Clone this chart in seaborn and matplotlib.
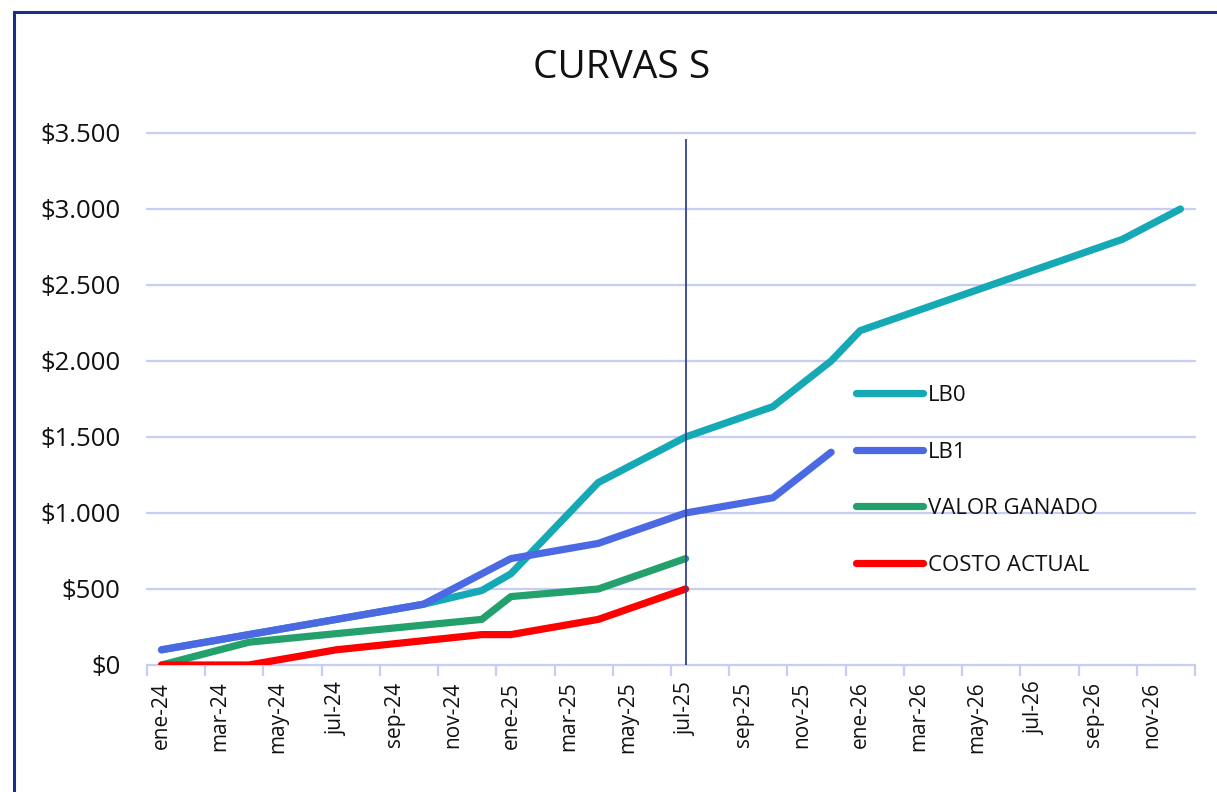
import matplotlib
matplotlib.use("Agg")
import matplotlib.pyplot as plt
from matplotlib.patches import Rectangle
from matplotlib.ticker import FuncFormatter, FixedLocator
import seaborn as sns
import pandas as pd

# ---- data ----
month_abbr = ["ene", "feb", "mar", "abr", "may", "jun", "jul", "ago", "sep", "oct", "nov", "dic"]
years = ["24", "25", "26"]
all_months = [f"{m}-{y}" for y in years for m in month_abbr]

series_names = ["LB0", "LB1", "VALOR GANADO", "COSTO ACTUAL"]

lb0_months = ["ene-24", "oct-24", "dic-24", "ene-25", "abr-25", "jul-25", "oct-25", "dic-25", "ene-26", "oct-26", "dic-26"]
lb0_values = [100, 400, 490, 600, 1200, 1500, 1700, 2000, 2200, 2800, 3000]

lb1_months = ["ene-24", "oct-24", "ene-25", "abr-25", "jul-25", "oct-25", "dic-25"]
lb1_values = [100, 400, 700, 800, 1000, 1100, 1400]

vg_months = ["ene-24", "abr-24", "dic-24", "ene-25", "abr-25", "jul-25"]
vg_values = [0, 150, 300, 450, 500, 700]

ca_months = ["ene-24", "abr-24", "jul-24", "dic-24", "ene-25", "abr-25", "jul-25"]
ca_values = [0, 0, 100, 200, 200, 300, 500]

cutoff_month = "jul-25"
cutoff_range = [0, 3460]

y_ticks = [0, 500, 1000, 1500, 2000, 2500, 3000, 3500]

colors = ["#15A9B6", "#4B69E2", "#23A06C", "#FF0000"]

# ---- frame ----
rows = []
for name, ms, vs in zip(series_names,
                        [lb0_months, lb1_months, vg_months, ca_months],
                        [lb0_values, lb1_values, vg_values, ca_values]):
    for m, v in zip(ms, vs):
        rows.append({"serie": name, "mes": all_months.index(m), "valor": v})
df = pd.DataFrame(rows)

sns.set_theme(style="white")
plt.rcParams["font.family"] = ["Open Sans", "DejaVu Sans"]

fig = plt.figure(figsize=(12.17, 7.92), dpi=100)
ax = fig.add_axes([147 / 1217, 1 - 665 / 792, (1195 - 147) / 1217, (665 - 133) / 792])

grid_c = "#C8CDF4"
for v in y_ticks[1:]:
    ax.axhline(v, color=grid_c, lw=1.6, zorder=0, clip_on=False)

lw = 5.2
sns.lineplot(data=df, x="mes", y="valor", hue="serie", hue_order=series_names,
             palette=colors, linewidth=lw, sort=False, ax=ax, zorder=3,
             solid_capstyle="round", estimator=None)

cx = all_months.index(cutoff_month)
ax.vlines(cx, cutoff_range[0], cutoff_range[1], color="#34418F", lw=1.3, zorder=4)

ax.set_xlim(-0.5, len(all_months) - 0.5)
ax.set_ylim(y_ticks[0], y_ticks[-1])

major_pos = list(range(0, len(all_months), 2))
ax.xaxis.set_major_locator(FixedLocator(major_pos))
ax.set_xticklabels([all_months[i] for i in major_pos], rotation=90, fontsize=15, color="#111111")
ax.xaxis.set_minor_locator(FixedLocator([p - 0.5 for p in range(0, len(all_months) + 1, 2)]))
ax.tick_params(axis="x", which="major", length=0, pad=12)
ax.tick_params(axis="x", which="minor", length=8, width=1.6, color=grid_c, bottom=True)

ax.yaxis.set_major_locator(FixedLocator(y_ticks))
ax.yaxis.set_major_formatter(FuncFormatter(lambda v, p: "$" + f"{v:,.0f}".replace(",", ".")))
ax.tick_params(axis="y", length=0, pad=19, labelsize=18.5, labelcolor="#111111")

for s in ["top", "right", "left"]:
    ax.spines[s].set_visible(False)
ax.spines["bottom"].set_color(grid_c)
ax.spines["bottom"].set_linewidth(1.6)
ax.set_xlabel("")
ax.set_ylabel("")

leg = ax.legend(loc="upper left", bbox_to_anchor=(856 / 1217, 1 - 385 / 792),
                bbox_transform=fig.transFigure, frameon=False, fontsize=16,
                handlelength=3.0, handletextpad=0.22, labelspacing=1.6, borderpad=0,
                borderaxespad=0)
for line in leg.get_lines():
    line.set_linewidth(lw)
    line.set_solid_capstyle("round")
for t in leg.get_texts():
    t.set_color("#111111")

fig.text(622 / 1217, 1 - 68 / 792, "CURVAS S", ha="center", va="center", fontsize=28, color="#111111")

fig.add_artist(Rectangle((14 / 1217, -0.1), 1.2, 1 - 12 / 792 + 0.1, transform=fig.transFigure,
                         fill=False, edgecolor="#1F2D8A", lw=2.2))

fig.savefig("out.png", dpi=100, facecolor="white")
